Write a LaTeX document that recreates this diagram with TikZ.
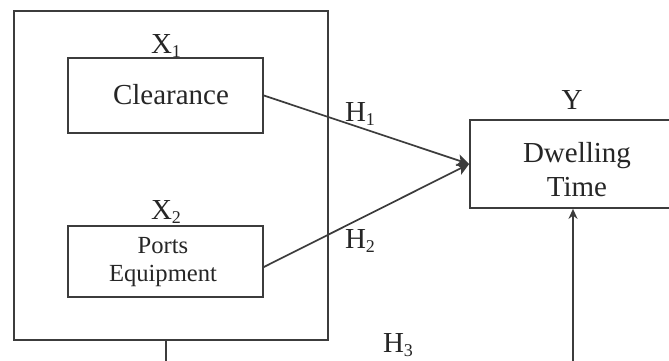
\documentclass[tikz,border=0pt]{standalone}
\usepackage{fontspec}
\setmainfont{Liberation Serif}
\usetikzlibrary{arrows.meta}
\newcommand{\mysub}[1]{\raisebox{-0.35ex}{\fontsize{9}{9}\selectfont #1}}
\definecolor{linec}{HTML}{3C3C3C}
\tikzset{
  box/.style={draw=linec, line width=0.85pt, inner sep=0pt, fill=white},
  lbl/.style={font=\fontsize{14.5}{16}\selectfont, text=black!85, inner sep=0pt},
  small/.style={font=\fontsize{12.3}{15}\selectfont, text=black!85, align=center, inner sep=0pt},
  conn/.style={draw=linec, line width=0.85pt},
  tip/.style={-{Stealth[length=5pt,width=4.5pt]}},
  bigtip/.style={-{Stealth[length=6pt,width=6pt,inset=1.5pt]}}
}
\begin{document}
\begin{tikzpicture}[x=0.5pt,y=-0.5pt]
\useasboundingbox (0,0) rectangle (669,360);
\fill[white] (0,0) rectangle (669,360);
\clip (0,0) rectangle (669,360);
% outer box
\node[box, minimum width=157pt, minimum height=164.5pt] (outer) at (171,175.5) {};
% inner boxes
\node[box, minimum width=97.5pt, minimum height=37.5pt] (clear) at (165.5,95.5) {};
\node[lbl] (cleart) at (171,95) {Clearance};
\node[box, minimum width=97.5pt, minimum height=35.5pt] (ports) at (165.5,261.5) {};
\node[small] (portst) at (163,262) {Ports\\[-1pt]Equipment};
% dependent box
\node[box, minimum width=103pt, minimum height=44pt] (dwell) at (573,164) {};
\node[lbl, align=center] (dwellt) at (577,170) {Dwelling\\[1pt]Time};
% labels
\node[lbl] (x1) at (166,46) {X\mysub{1}};
\node[lbl] (x2) at (166,212) {X\mysub{2}};
\node[lbl] (y) at (572,100) {Y};
\node[lbl] (h1) at (360,114) {H\mysub{1}};
\node[lbl] (h2) at (360,241) {H\mysub{2}};
\node[lbl] (h3) at (398,345) {H\mysub{3}};
% connectors
\draw[conn, bigtip] (clear.east) -- (dwell.west);
\draw[conn, bigtip] (ports.east |- 0,267) -- (dwell.west);
\coordinate (b1) at (166,340);
\draw[conn, tip] (b1) -- (166,380) -| (dwell.south);
\end{tikzpicture}
\end{document}
